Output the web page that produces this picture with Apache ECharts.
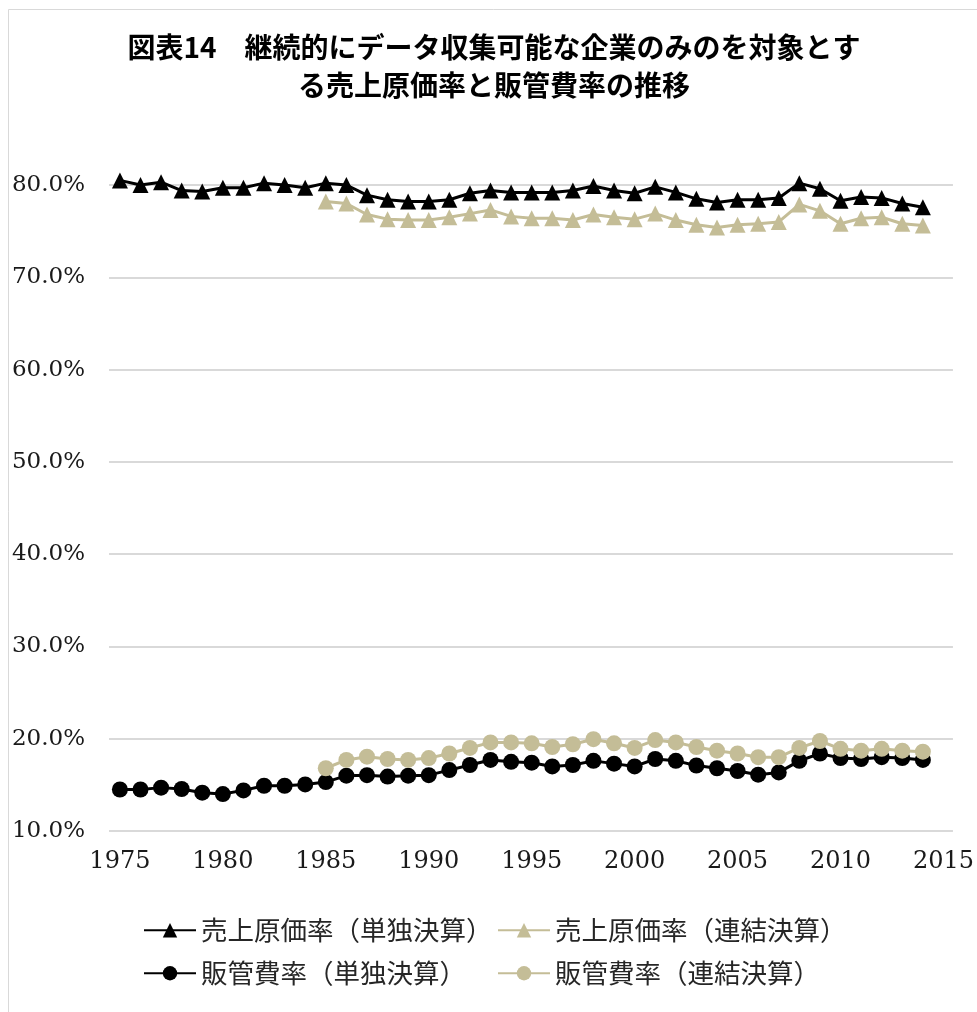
<!DOCTYPE html>
<html><head><meta charset="utf-8">
<script src="https://cdn.jsdelivr.net/npm/echarts@6/dist/echarts.min.js"></script>
<style>html,body{margin:0;padding:0;background:#fff}#c{width:977px;height:1012px}</style>
</head><body><div id="c"></div>
<script>
const titleText = '図表14　継続的にデータ収集可能な企業のみのを対象とす\nる売上原価率と販管費率の推移';
const years = [1975,1976,1977,1978,1979,1980,1981,1982,1983,1984,1985,1986,1987,1988,1989,1990,1991,1992,1993,1994,1995,1996,1997,1998,1999,2000,2001,2002,2003,2004,2005,2006,2007,2008,2009,2010,2011,2012,2013,2014];
const consYears = years.slice(10);
const seriesNames = ['売上原価率（単独決算）','売上原価率（連結決算）','販管費率（単独決算）','販管費率（連結決算）'];
const cogsStandalone = [80.5,80.0,80.3,79.4,79.3,79.7,79.7,80.2,80.0,79.7,80.2,80.0,78.9,78.4,78.2,78.2,78.4,79.1,79.4,79.2,79.2,79.2,79.4,79.9,79.4,79.1,79.8,79.2,78.5,78.1,78.4,78.4,78.6,80.2,79.6,78.3,78.7,78.6,78.0,77.6];
const cogsConsolidated = [78.2,78.0,76.8,76.3,76.2,76.2,76.5,76.9,77.3,76.6,76.4,76.4,76.2,76.8,76.5,76.3,76.9,76.2,75.7,75.4,75.7,75.8,76.0,77.9,77.2,75.8,76.4,76.5,75.8,75.6];
const sgaStandalone = [14.5,14.5,14.7,14.55,14.15,14.0,14.4,14.9,14.9,15.05,15.3,16.0,16.05,15.9,16.0,16.05,16.6,17.15,17.7,17.5,17.4,17.0,17.15,17.6,17.3,17.0,17.8,17.6,17.1,16.8,16.5,16.1,16.35,17.6,18.4,17.9,17.8,18.0,17.9,17.7];
const sgaConsolidated = [16.8,17.7,18.05,17.8,17.7,17.9,18.4,19.0,19.6,19.6,19.5,19.1,19.4,19.95,19.5,19.0,19.85,19.6,19.1,18.7,18.4,18.0,18.0,19.0,19.75,18.9,18.7,18.9,18.7,18.6];
const xTicks = [1975,1980,1985,1990,1995,2000,2005,2010,2015];

const BLACK = '#000000', TAN = '#C4BD97';
const pair = (xs, ys) => xs.map((x, i) => [x, ys[i]]);
function mk(name, xs, ys, color, symbol) {
  return { name, type: 'line', data: pair(xs, ys), symbol, symbolSize: 16, clip: false,
    lineStyle: { color, width: 3 }, itemStyle: { color }, emphasis: { disabled: true } };
}
const legendFont = { fontFamily: '"Noto Sans CJK JP"', fontSize: 26.5, color: '#262626' };
function lg(name, left, top) {
  return { data: [name], left, top, itemWidth: 52, itemHeight: 18, itemGap: 0, padding: 0, textStyle: legendFont };
}
const axisFont = { fontFamily: 'DejaVu Serif', color: '#1a1a1a' };
const chart = echarts.init(document.getElementById('c'), null, { renderer: 'canvas' });
chart.setOption({
  animation: false,
  backgroundColor: '#fff',
  graphic: [{ type: 'rect', shape: { x: 8.5, y: 9.5, width: 1100, height: 1100 }, style: { fill: 'none', stroke: '#D9D9D9', lineWidth: 1 }, silent: true }],
  title: { text: titleText, left: 489, top: 23, textAlign: 'center',
    textStyle: { fontFamily: '"Noto Sans CJK JP"', fontWeight: 'bold', fontSize: 28, lineHeight: 38, color: '#000' } },
  grid: { left: 109, right: 22, top: 185, bottom: 181 },
  xAxis: { type: 'value', min: 1974.47, max: 2015.46,
    axisLine: { show: false }, axisTick: { show: false }, splitLine: { show: false },
    axisLabel: Object.assign({ customValues: xTicks, margin: 19, fontSize: 24, formatter: v => String(v) }, axisFont) },
  yAxis: { type: 'value', min: 10, max: 80, interval: 10,
    axisLine: { show: false }, axisTick: { show: false },
    splitLine: { lineStyle: { color: '#D9D9D9', width: 2 } },
    axisLabel: Object.assign({ margin: 24, fontSize: 23, formatter: v => v.toFixed(1) + '%' }, axisFont) },
  legend: [lg(seriesNames[0], 143, 917), lg(seriesNames[1], 497, 917), lg(seriesNames[2], 143, 960), lg(seriesNames[3], 497, 960)],
  series: [
    mk(seriesNames[0], years, cogsStandalone, BLACK, 'triangle'),
    mk(seriesNames[1], consYears, cogsConsolidated, TAN, 'triangle'),
    mk(seriesNames[2], years, sgaStandalone, BLACK, 'circle'),
    mk(seriesNames[3], consYears, sgaConsolidated, TAN, 'circle')
  ]
});
</script></body></html>
